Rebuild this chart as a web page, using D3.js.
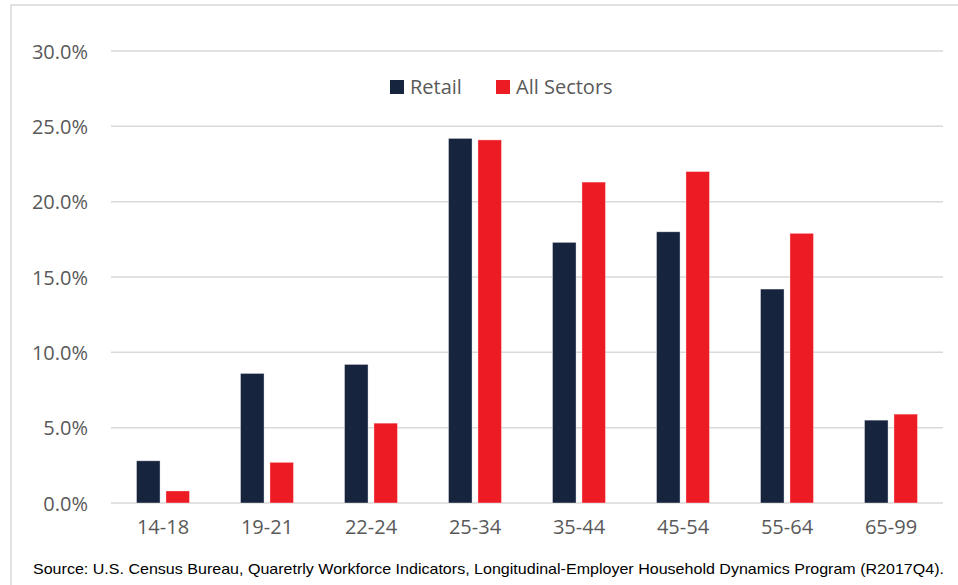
<!DOCTYPE html>
<html>
<head>
<meta charset="utf-8">
<script src="https://cdn.jsdelivr.net/npm/d3@7"></script>
<style>
  html, body { margin: 0; padding: 0; background: #fff; }
  svg { display: block; }
</style>
</head>
<body>
<svg id="chart" width="958" height="585"></svg>
<script>
// Age groups and share of employment (%) in each
const ageGroups = ["14-18", "19-21", "22-24", "25-34", "35-44", "45-54", "55-64", "65-99"];
const retail = [2.8, 8.6, 9.2, 24.2, 17.3, 18.0, 14.2, 5.5];
const allSectors = [0.8, 2.7, 5.3, 24.1, 21.3, 22.0, 17.9, 5.9];
const seriesNames = ["Retail", "All Sectors"];
const seriesColors = ["#16243d", "#ed1c24"];
const yTicks = [0, 5, 10, 15, 20, 25, 30];
const sourceNote = "Source: U.S. Census Bureau, Quaretrly Workforce Indicators, Longitudinal-Employer Household Dynamics Program (R2017Q4).";

const svg = d3.select("#chart");
const font = "'Open Sans', 'DejaVu Sans', sans-serif";
const textColor = "#595959";

const plot = { left: 111, right: 943, top: 51, bottom: 503 };

// Outer frame of the chart area
svg.append("rect")
  .attr("x", 11).attr("y", 5)
  .attr("width", 960).attr("height", 600)
  .attr("fill", "none")
  .attr("stroke", "#d9d9d9")
  .attr("stroke-width", 1.5);

const x0 = d3.scaleBand().domain(ageGroups).range([plot.left, plot.right]).paddingInner(0).paddingOuter(0);
const groupWidth = 53;
const x1 = d3.scaleBand().domain(seriesNames).range([0, groupWidth]).paddingInner(0.2).paddingOuter(0);
const y = d3.scaleLinear().domain([0, 30]).range([plot.bottom, plot.top]);

// Horizontal gridlines
svg.append("g")
  .selectAll("line")
  .data(yTicks)
  .join("line")
  .attr("x1", plot.left).attr("x2", plot.right)
  .attr("y1", d => y(d)).attr("y2", d => y(d))
  .attr("stroke", "#d9d9d9")
  .attr("stroke-width", 1.5);

// Y axis labels
const yAxis = d3.axisLeft(y).tickValues(yTicks).tickFormat(d => d.toFixed(1) + "%").tickSize(0).tickPadding(0);
const yg = svg.append("g").attr("transform", `translate(88,0)`).call(yAxis);
yg.select(".domain").remove();
yg.selectAll("text")
  .attr("font-family", font)
  .attr("font-size", 20)
  .attr("fill", textColor)
  .attr("dy", "0.36em");

// X axis labels
const xAxis = d3.axisBottom(x0).tickSize(0).tickPadding(0);
const xg = svg.append("g").attr("transform", `translate(0,${plot.bottom})`).call(xAxis);
xg.select(".domain").remove();
xg.selectAll("text")
  .attr("font-family", font)
  .attr("font-size", 20)
  .attr("fill", textColor)
  .attr("dy", 0)
  .attr("y", 31);

// Grouped bars
const rows = ageGroups.map((g, i) => ({ group: g, values: [retail[i], allSectors[i]] }));
const groups = svg.append("g")
  .selectAll("g")
  .data(rows)
  .join("g")
  .attr("transform", d => `translate(${x0(d.group) + (x0.bandwidth() - groupWidth) / 2},0)`);

groups.selectAll("rect")
  .data(d => d.values.map((v, k) => ({ name: seriesNames[k], value: v, color: seriesColors[k] })))
  .join("rect")
  .attr("x", d => x1(d.name))
  .attr("width", x1.bandwidth())
  .attr("y", d => y(d.value))
  .attr("height", d => y(0) - y(d.value))
  .attr("fill", d => d.color)
  .attr("stroke", "#ffffff")
  .attr("stroke-opacity", 0.5)
  .attr("stroke-width", 0.75);

// Legend
const legendX = [390, 496];
const legend = svg.append("g")
  .selectAll("g")
  .data(seriesNames)
  .join("g")
  .attr("transform", (d, i) => `translate(${legendX[i]},80)`);
legend.append("rect")
  .attr("width", 14).attr("height", 14)
  .attr("fill", (d, i) => seriesColors[i]);
legend.append("text")
  .attr("x", 20).attr("y", 14)
  .attr("font-family", font)
  .attr("font-size", 20)
  .attr("fill", textColor)
  .text(d => d);

// Source note
svg.append("text")
  .attr("x", 33).attr("y", 574)
  .attr("font-family", "'Liberation Sans Narrow', 'Liberation Sans', sans-serif")
  .attr("font-size", 15)
  .attr("fill", "#000")
  .attr("textLength", 911)
  .attr("lengthAdjust", "spacingAndGlyphs")
  .text(sourceNote);
</script>
</body>
</html>
